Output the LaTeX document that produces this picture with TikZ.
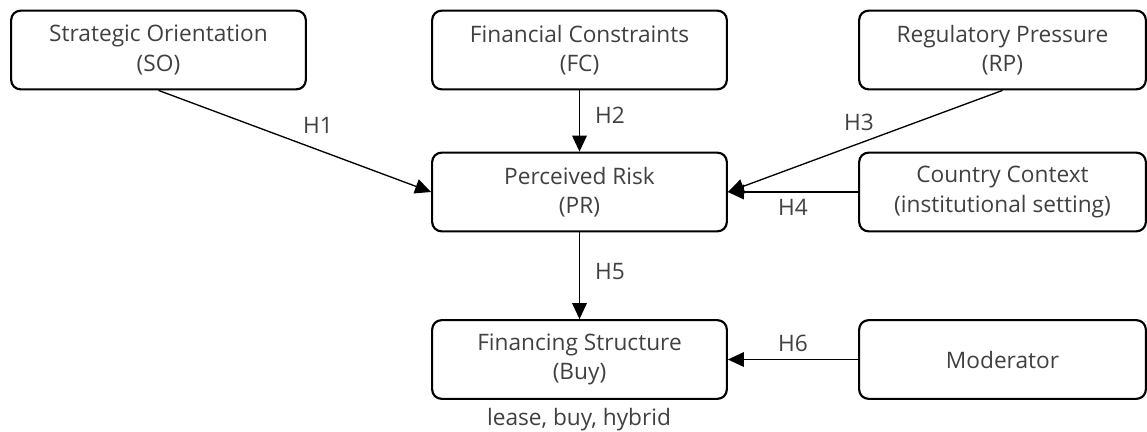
\documentclass[tikz,border=0pt]{standalone}
\usepackage{fontspec}
\setmainfont{Open Sans}
\usetikzlibrary{arrows.meta}
\definecolor{txt}{HTML}{404040}
\begin{document}
\begin{tikzpicture}[x=0.75pt,y=-0.75pt,
  box/.style={draw=black, line width=1.6pt, rounded corners=7pt, minimum height=59pt, align=center, text=txt, font=\fontsize{17}{22}\selectfont, inner sep=0pt},
  wbox/.style={box, minimum width=221pt},
  nbox/.style={box, minimum width=215pt},
  lbl/.style={text=txt, font=\fontsize{17}{20}\selectfont, inner sep=0pt},
  conn/.style={draw=black, line width=1pt, -{Triangle[length=12pt,width=11pt]}}]
\useasboundingbox (0,0) rectangle (1147,432);
\node[wbox] (SO) at (158.5,50) {Strategic Orientation\\(SO)};
\node[wbox] (FC) at (579.5,50) {Financial Constraints\\(FC)};
\node[nbox] (RP) at (1002.5,50) {Regulatory Pressure\\(RP)};
\node[wbox] (PR) at (579.5,192) {Perceived Risk\\(PR)};
\node[nbox] (CC) at (1002.5,192) {Country Context\\(institutional setting)};
\node[wbox] (FS) at (579.5,359.5) {Financing Structure\\(Buy)};
\node[nbox] (MO) at (1002.5,359.5) {Moderator};
\node[lbl] (note) at (579,420) {lease, buy, hybrid};
\draw[conn] (SO.south) -- (PR.west);
\draw[conn] (FC.south) -- (PR.north);
\draw[conn] (RP.south) -- (PR.east);
\draw[conn] (CC.west) -- (PR.east);
\draw[conn] (PR.south) -- (FS.north);
\draw[conn] (MO.west) -- (FS.east);
\node[lbl] (h1) at (318,125) {H1};
\node[lbl] (h2) at (610,115) {H2};
\node[lbl] (h3) at (859,122) {H3};
\node[lbl] (h4) at (793,207) {H4};
\node[lbl] (h5) at (610,272) {H5};
\node[lbl] (h6) at (793,343) {H6};
\end{tikzpicture}
\end{document}
